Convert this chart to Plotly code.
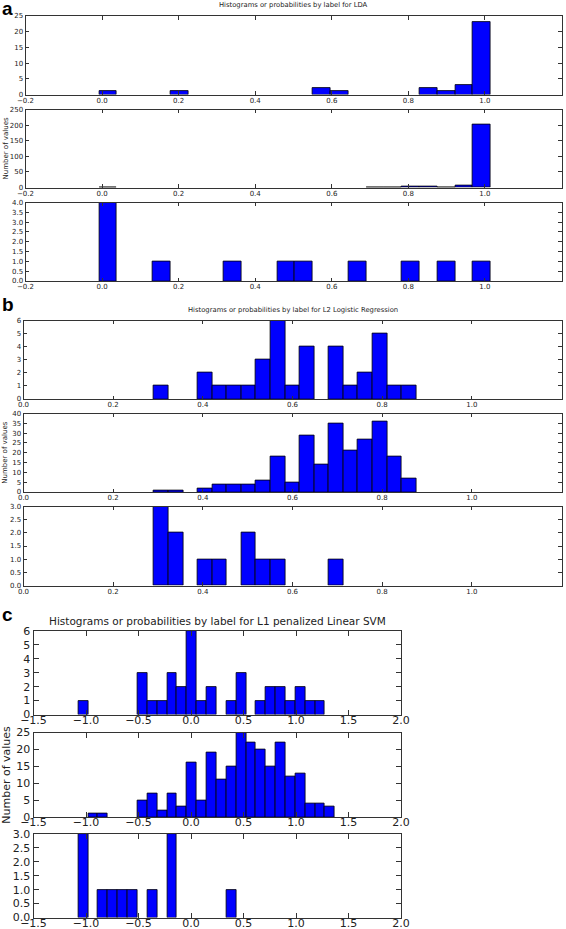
import numpy as np
import plotly.graph_objects as go

# ---------------- data ----------------
# Panel a: LDA (26 bins)
LDA_RANGE = (-0.194, 1.015)
lda_top = [0,0,0,0,1,0,0,0,1,0,0,0,0,0,0,0,2,1,0,0,0,0,2,1,3,23]
lda_mid = [0,0,0,0,1,0,0,0,0,0,0,0,0,0,0,0,0,0,0,1,1,3,3,1,7,203]
lda_bot = [0,0,0,0,4,0,0,1,0,0,0,1,0,0,1,1,0,0,1,0,0,1,0,1,0,1]

# Panel b: L2 Logistic Regression (24 bins)
L2_RANGE = (0.096, 0.876)
l2_top = [0,0,0,0,0,0,1,0,0,2,1,1,1,3,6,1,4,0,4,1,2,5,1,1]
l2_mid = [0,0,0,0,0,0,1,1,0,2,4,4,4,6,18,5,29,14,35,21,27,36,18,7]
l2_bot = [0,0,0,0,0,0,3,2,0,1,1,0,2,1,1,0,0,0,1,0,0,0,0,0]

# Panel c: L1 penalized Linear SVM (28 bins)
SVM_RANGE = (-1.262, 1.37)
svm_top = [0,0,1,0,0,0,0,0,3,1,1,3,2,6,1,2,0,1,3,0,1,2,2,1,2,1,1,0]
svm_mid = [0,0,0,1,1,0,0,0,5,7,2,7,3,16,5,19,11,15,25,22,20,15,22,12,13,4,4,3]
svm_bot = [0,0,3,0,1,1,1,1,0,1,0,3,0,0,0,0,0,1,0,0,0,0,0,0,0,0,0,0]

titles = ["Histograms or probabilities by label for LDA",
          "Histograms or probabilities by label for L2 Logistic Regression",
          "Histograms or probabilities by label for L1 penalized Linear SVM"]
panel_letters = ["a", "b", "c"]
ylabel = "Number of values"

# ---------------- layout geometry (pixels) ----------------
W, H = 566, 929
FONT = "DejaVu Sans"

panels = [
    dict(rng=LDA_RANGE, counts=[lda_top, lda_mid, lda_bot],
         xl=25.5, xr=561.5, rows=[(16, 94.5), (109.5, 187.5), (202.5, 281)],
         xrange=[-0.2, 1.2], xdtick=0.2, ymax=[25, 250, 4], ydt=[5, 50, 0.5],
         yfmt=["d", "d", ".1f"], fs=7, tfs=6.8, lfs=7, tl=3.5, xso=-1,
         title_y=5, letter_y=8, ylab_x=5),
    dict(rng=L2_RANGE, counts=[l2_top, l2_mid, l2_bot],
         xl=23.5, xr=561.5, rows=[(320.5, 399), (413.5, 492), (506.5, 585.5)],
         xrange=[0.0, 1.2], xdtick=0.2, ymax=[6, 40, 3], ydt=[1, 5, 0.5],
         yfmt=["d", "d", ".1f"], fs=7, tfs=6.8, lfs=7, tl=3.5, xso=-1,
         title_y=310, letter_y=304, ylab_x=5),
    dict(rng=SVM_RANGE, counts=[svm_top, svm_mid, svm_bot],
         xl=33.5, xr=401, rows=[(631, 714.5), (732.5, 817), (834, 917.5)],
         xrange=[-1.5, 2.0], xdtick=0.5, ymax=[6, 25, 3], ydt=[1, 5, 0.5],
         yfmt=["d", "d", ".1f"], fs=11, tfs=10.5, lfs=11, tl=5, xso=-5,
         title_y=621, letter_y=614, ylab_x=7),
]

fig = go.Figure()
layout = {}
annotations = []
k = 0
for pi, p in enumerate(panels):
    n = len(p["counts"][0])
    edges = np.linspace(p["rng"][0], p["rng"][1], n + 1)
    centers = (edges[:-1] + edges[1:]) / 2
    width = edges[1] - edges[0]
    for r, counts in enumerate(p["counts"]):
        k += 1
        xa = "x" if k == 1 else f"x{k}"
        ya = "y" if k == 1 else f"y{k}"
        yvals = [c if c > 0 else None for c in counts]
        fig.add_trace(go.Bar(
            x=centers, y=yvals, width=width, xaxis=xa, yaxis=ya,
            marker=dict(color="#0000ff", line=dict(color="#000000", width=0.8)),
            showlegend=False, hoverinfo="x+y"))
        top, bot = p["rows"][r]
        common = dict(showline=True, linecolor="#333333", linewidth=1,
                      mirror="ticks", ticks="inside", ticklen=p["tl"],
                      tickcolor="#333333", tickwidth=1, showgrid=False,
                      zeroline=False, automargin=False,
                      tickfont=dict(family=FONT, size=p["fs"], color="#222222"))
        layout["xaxis" if k == 1 else f"xaxis{k}"] = dict(
            domain=[p["xl"] / W, p["xr"] / W], anchor=ya,
            range=p["xrange"], tick0=p["xrange"][0], dtick=p["xdtick"],
            tickformat=".1f", ticklabelstandoff=p["xso"], **common)
        layout["yaxis" if k == 1 else f"yaxis{k}"] = dict(
            domain=[1 - bot / H, 1 - top / H], anchor=xa,
            range=[0, p["ymax"][r]], tick0=0, dtick=p["ydt"][r],
            tickformat=p["yfmt"][r], **common)
    # title
    annotations.append(dict(
        text=titles[pi], xref="paper", yref="paper",
        x=(p["xl"] + p["xr"]) / 2 / W, y=1 - p["title_y"] / H,
        xanchor="center", yanchor="middle", showarrow=False,
        font=dict(family=FONT, size=p["tfs"], color="#222222")))
    # panel letter
    annotations.append(dict(
        text=f"<b>{panel_letters[pi]}</b>", xref="paper", yref="paper",
        x=0, y=1 - p["letter_y"] / H, xanchor="left", yanchor="middle",
        showarrow=False, font=dict(family="Liberation Sans", size=19, color="#000000")))
    # y label (centered on middle row)
    mt, mb = p["rows"][1]
    annotations.append(dict(
        text=ylabel, xref="paper", yref="paper",
        x=p["ylab_x"] / W, y=1 - ((mt + mb) / 2) / H,
        xanchor="center", yanchor="middle", textangle=-90, showarrow=False,
        font=dict(family=FONT, size=p["lfs"], color="#222222")))

fig.update_layout(
    width=W, height=H, margin=dict(l=0, r=0, t=0, b=0, autoexpand=False),
    paper_bgcolor="white", plot_bgcolor="white", font=dict(family=FONT),
    bargap=0, annotations=annotations, **layout)

fig.write_html(
    "out.html",
    config={"displayModeBar": False},
    post_script="document.body.style.margin='0';document.body.style.padding='0';"
                "document.body.style.overflow='hidden';")
